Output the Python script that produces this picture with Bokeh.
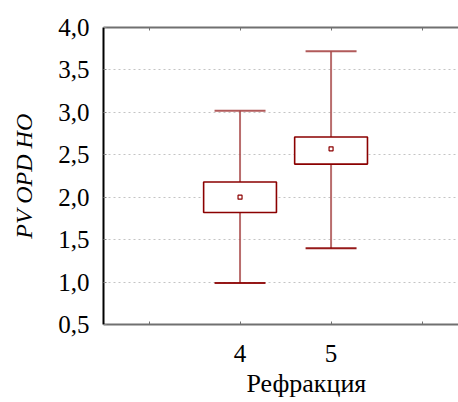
from bokeh.plotting import figure
from bokeh.models import (LinearAxis, FixedTicker, Range1d, ColumnDataSource,
                          Title)
from bokeh.embed import file_html
from bokeh.resources import INLINE

# Summary statistics per refraction group
categories = [4, 5]
means = [2.00, 2.57]
box_low = [1.82, 2.39]
box_high = [2.18, 2.71]
whisk_low = [0.99, 1.40]
whisk_high = [3.02, 3.72]

y_ticks = [0.5, 1.0, 1.5, 2.0, 2.5, 3.0, 3.5, 4.0]
y_tick_labels = ["0,5", "1,0", "1,5", "2,0", "2,5", "3,0", "3,5", "4,0"]
x_ticks = [3, 4, 5, 6]
x_tick_labels = ["", "4", "5", ""]

SERIF = "'Liberation Serif', 'Times New Roman', serif"
DARK = "#8b0000"
WHISK = "#a84848"
BOX_W = 0.8
CAP_W = 0.56

p = figure(width=458, height=402, output_backend="svg", toolbar_location=None,
           x_range=Range1d(2.5, 6.4), y_range=Range1d(0.5, 4.0),
           x_axis_location=None, y_axis_location=None,
           min_border_left=103, min_border_right=0, min_border_top=27,
           min_border_bottom=78)
p.outline_line_color = None
p.background_fill_color = "white"
p.border_fill_color = "white"

# grid
p.xgrid.visible = False
p.ygrid.ticker = FixedTicker(ticks=y_ticks)
p.ygrid.grid_line_color = "#c4c4c4"
p.ygrid.grid_line_dash = "2 3"
p.ygrid.grid_line_width = 1

# left axis
yax = LinearAxis(ticker=FixedTicker(ticks=y_ticks),
                 major_label_overrides={t: l for t, l in zip(y_ticks, y_tick_labels)})
yax.axis_line_color = "black"
yax.axis_line_width = 2
yax.major_tick_in = 3
yax.major_tick_out = 0
yax.major_tick_line_color = "#888888"
yax.minor_tick_line_color = None
yax.major_label_text_font = SERIF
yax.major_label_text_font_size = "25px"
yax.major_label_text_color = "black"
yax.major_label_standoff = 14
yax.axis_label = "PV OPD HO"
yax.axis_label_text_font = SERIF
yax.axis_label_text_font_style = "italic"
yax.axis_label_text_font_size = "24px"
yax.axis_label_text_color = "black"
yax.axis_label_standoff = 18
p.add_layout(yax, "left")

# bottom axis
xax = LinearAxis(ticker=FixedTicker(ticks=x_ticks),
                 major_label_overrides={t: l for t, l in zip(x_ticks, x_tick_labels)})
xax.axis_line_color = "#707070"
xax.axis_line_width = 2
xax.major_tick_in = 3
xax.major_tick_out = 0
xax.major_tick_line_color = "#707070"
xax.minor_tick_line_color = None
xax.major_label_text_font = SERIF
xax.major_label_text_font_size = "25px"
xax.major_label_text_color = "black"
xax.major_label_standoff = 20
p.add_layout(xax, "below")

# top axis (frame line with tick marks only)
tax = LinearAxis(ticker=FixedTicker(ticks=x_ticks),
                 major_label_overrides={t: "" for t in x_ticks})
tax.axis_line_color = "#707070"
tax.axis_line_width = 2
tax.major_tick_in = 3
tax.major_tick_out = 0
tax.major_tick_line_color = "#707070"
tax.minor_tick_line_color = None
tax.major_label_standoff = 0
p.add_layout(tax, "above")

# x axis title, centred under the group ticks
p.add_layout(Title(text="Рефракция", align="left", offset=143, standoff=5,
                   text_font=SERIF, text_font_size="26px",
                   text_font_style="normal", text_color="black"), "below")

src = ColumnDataSource(dict(
    x=categories, mean=means, lo=box_low, hi=box_high,
    wlo=whisk_low, whi=whisk_high,
    cl=[c - CAP_W / 2 for c in categories],
    cr=[c + CAP_W / 2 for c in categories],
))

# whiskers
p.segment(x0="x", y0="hi", x1="x", y1="whi", source=src,
          line_color=WHISK, line_width=2, line_alpha=0.8)
p.segment(x0="x", y0="wlo", x1="x", y1="lo", source=src,
          line_color=WHISK, line_width=2, line_alpha=0.8)
p.segment(x0="cl", y0="whi", x1="cr", y1="whi", source=src,
          line_color=WHISK, line_width=2, line_alpha=0.9)
p.segment(x0="cl", y0="wlo", x1="cr", y1="wlo", source=src,
          line_color=DARK, line_width=2, line_alpha=0.9)

# boxes
p.vbar(x="x", width=BOX_W, bottom="lo", top="hi", source=src,
       fill_color="white", line_color=DARK, line_width=1.6)

# mean markers
p.scatter(x="x", y="mean", source=src, marker="square", size=4,
          fill_color="white", line_color=DARK, line_width=1.2)

open("out.html", "w").write(file_html(p, INLINE))
